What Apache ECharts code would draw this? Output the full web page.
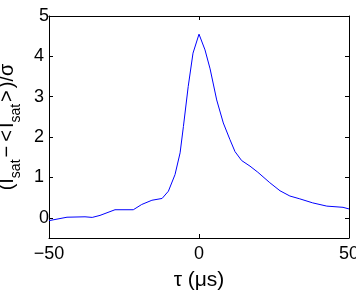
<!DOCTYPE html>
<html><head><meta charset="utf-8">
<script src="https://cdn.jsdelivr.net/npm/echarts@6/dist/echarts.min.js"></script>
<style>html,body{margin:0;padding:0;background:#fff}#c{width:356px;height:294px}</style>
</head><body><div id="c"></div>
<script>
const tau = [-50,-44,-38,-35.6,-33,-28,-21.9,-19.1,-15.7,-12.3,-10.2,-8,-6.3,-5.2,-3.6,-2,0,2,3.7,5.9,8.1,10.3,12,14.2,17,19.6,23.6,27,30.3,33.6,37.9,42.6,48,50];
const values = [-0.07,0.015,0.025,0.01,0.06,0.2,0.2,0.33,0.435,0.48,0.66,1.07,1.61,2.26,3.25,4.08,4.55,4.16,3.69,2.92,2.35,1.94,1.64,1.42,1.28,1.13,0.87,0.67,0.54,0.47,0.37,0.29,0.26,0.22];
const xTicks = [-50,0,50];
const yTicks = [0,1,2,3,4,5];

const font = 'Liberation Sans, Arial, sans-serif';
const chart = echarts.init(document.getElementById('c'), null, {renderer:'canvas'});
const axisLine = {show:true, onZero:false, lineStyle:{color:'#000', width:1}};
const tickStyle = {color:'#000', width:1};
chart.setOption({
  animation:false,
  grid:{left:49, right:7, top:16, bottom:56, containLabel:false, outerBoundsMode:'none'},
  xAxis:[{
    type:'value', min:-50, max:50, interval:50, position:'bottom',
    axisLine, splitLine:{show:false},
    axisTick:{show:true, inside:true, length:4, lineStyle:tickStyle, customValues:xTicks},
    axisLabel:{color:'#000', fontSize:18, fontFamily:font, margin:7, customValues:xTicks,
      alignMinLabel:'center', alignMaxLabel:'center', hideOverlap:false,
      formatter:v => String(v).replace('-', '\u2212')},
    name:'\u03c4 (\u03bcs)', nameLocation:'middle', nameGap:32,
    nameTextStyle:{color:'#000', fontSize:21, fontFamily:font}
  },{
    type:'value', min:-50, max:50, interval:50, position:'top',
    axisLine, splitLine:{show:false},
    axisTick:{show:true, inside:true, length:4, lineStyle:tickStyle, customValues:xTicks},
    axisLabel:{show:false}
  }],
  yAxis:[{
    type:'value', min:-0.5, max:5, interval:0.5, position:'left',
    axisLine, splitLine:{show:false},
    axisTick:{show:true, inside:true, length:4, lineStyle:tickStyle, customValues:yTicks},
    axisLabel:{color:'#000', fontSize:18, fontFamily:font, margin:5, customValues:yTicks,
      alignMinLabel:'center', alignMaxLabel:'center', hideOverlap:false},
    name:'{n|(I}{s|sat}{o|\u2212}{o|<}{n|I}{s|sat}{o|>}{n|)/\u03c3}', nameLocation:'middle', nameGap:25, nameRotate:90,
    nameTextStyle:{color:'#000', fontFamily:font,
      rich:{n:{fontSize:20, fontFamily:font, color:'#000', lineHeight:26, verticalAlign:'top'},
            o:{fontSize:20, fontFamily:font, color:'#000', lineHeight:26, verticalAlign:'top', padding:[0,2,0,2]},
            s:{fontSize:14, fontFamily:font, color:'#000', lineHeight:26, verticalAlign:'bottom'}}}
  },{
    type:'value', min:-0.5, max:5, interval:0.5, position:'right',
    axisLine, splitLine:{show:false},
    axisTick:{show:true, inside:true, length:4, lineStyle:tickStyle, customValues:yTicks},
    axisLabel:{show:false}
  }],
  series:[{
    type:'line', data:tau.map((t,i)=>[t, values[i]]), showSymbol:false,
    lineStyle:{color:'#0000ff', width:1}, xAxisIndex:0, yAxisIndex:0
  }]
});
</script></body></html>
